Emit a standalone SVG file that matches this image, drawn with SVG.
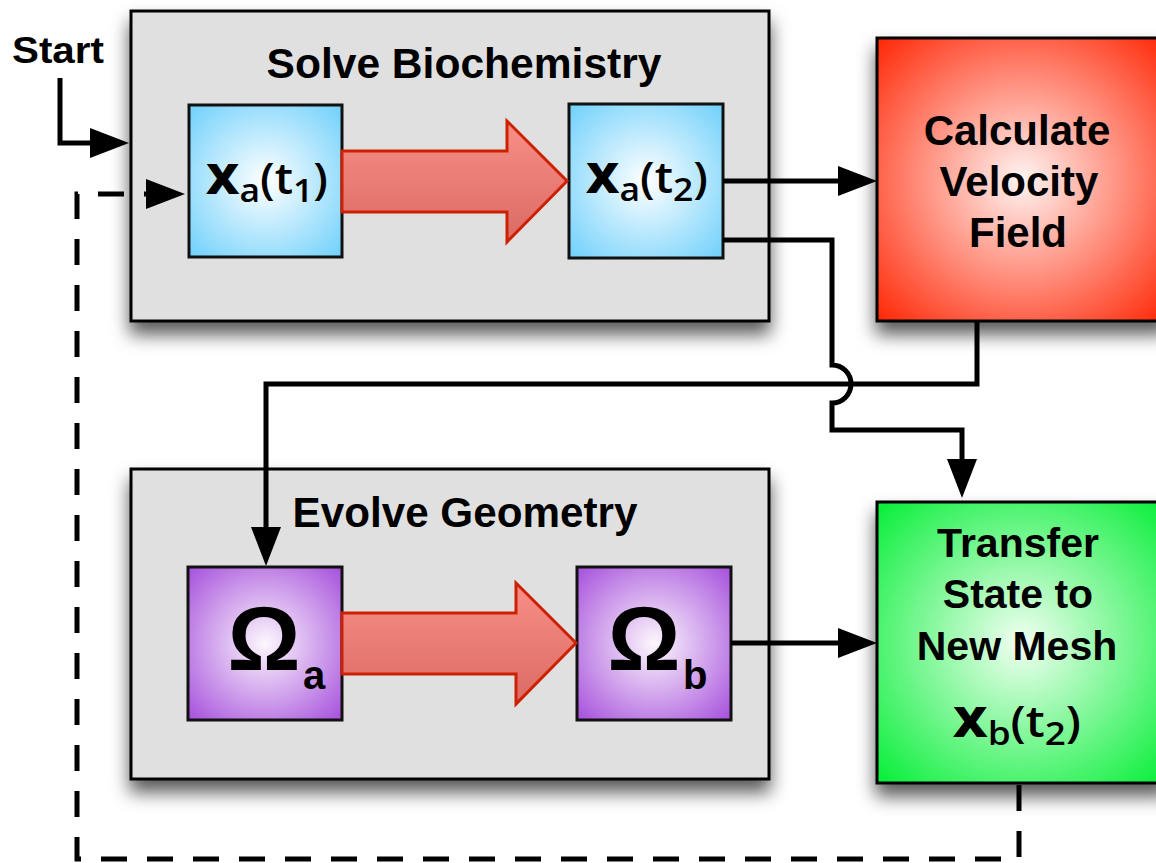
<svg xmlns="http://www.w3.org/2000/svg" width="1156" height="863" viewBox="0 0 1156 863">
<defs>
<filter id="sh" x="-20%" y="-20%" width="140%" height="150%">
<feDropShadow dx="0" dy="12" stdDeviation="9" flood-color="#000" flood-opacity="0.65"/>
</filter>
<radialGradient id="gBlue" cx="50%" cy="50%" r="70%">
<stop offset="0" stop-color="#ffffff"/>
<stop offset="1" stop-color="#6fd0fb"/>
</radialGradient>
<radialGradient id="gRed" cx="50%" cy="50%" r="72%">
<stop offset="0" stop-color="#fff4f2"/>
<stop offset="1" stop-color="#ff2200"/>
</radialGradient>
<radialGradient id="gGreen" cx="50%" cy="50%" r="72%">
<stop offset="0" stop-color="#f2fff2"/>
<stop offset="1" stop-color="#00ee33"/>
</radialGradient>
<radialGradient id="gPurple" cx="50%" cy="50%" r="70%">
<stop offset="0" stop-color="#fcf7fd"/>
<stop offset="1" stop-color="#a650dc"/>
</radialGradient>
<linearGradient id="gArrow" x1="0" y1="0" x2="0" y2="1">
<stop offset="0" stop-color="#f88f86"/>
<stop offset="1" stop-color="#db6a64"/>
</linearGradient>
<marker id="ah" viewBox="0 0 39 30" markerWidth="39" markerHeight="30" refX="19" refY="15" markerUnits="userSpaceOnUse" orient="auto">
<path d="M0,0 L39,15 L0,30 Z" fill="#000"/>
</marker>
</defs>
<style>
.group{fill:#e0e0e0;stroke:#000;stroke-width:3}
.big{stroke:#000;stroke-width:3}
.sm{stroke:#111;stroke-width:3}
.lbl{font-family:"Liberation Sans",Arial,sans-serif;font-weight:bold;fill:#000}
.math{font-family:"Open Sans","DejaVu Sans",sans-serif;font-weight:600;fill:#000}
.omega{font-family:"Liberation Sans",Arial,sans-serif;font-weight:bold;fill:#000}
.conn{fill:none;stroke:#000;stroke-width:5;stroke-linejoin:miter}
.dash{stroke-dasharray:26 20}
.fat{fill:url(#gArrow);stroke:#cc2000;stroke-width:3}
</style>

<g id="solve-biochemistry">
<rect class="group" x="131" y="11" width="638" height="310" filter="url(#sh)"/>
<text class="lbl" x="464" y="78" font-size="42" text-anchor="middle" textLength="395" lengthAdjust="spacingAndGlyphs">Solve Biochemistry</text>
</g>

<g id="evolve-geometry">
<rect class="group" x="131" y="469" width="638" height="310" filter="url(#sh)"/>
<text class="lbl" x="465" y="527" font-size="42" text-anchor="middle" textLength="345" lengthAdjust="spacingAndGlyphs">Evolve Geometry</text>
</g>

<g id="xa-t1">
<rect class="sm" x="189" y="105" width="153" height="152" fill="url(#gBlue)"/>
<text class="math" x="267" y="194" font-size="43" text-anchor="middle" textLength="122" lengthAdjust="spacingAndGlyphs"><tspan font-weight="800">X</tspan><tspan font-size="33" dy="8">a</tspan><tspan dy="-8">(t</tspan><tspan font-size="33" dy="8">1</tspan><tspan dy="-8">)</tspan></text>
</g>

<g id="xa-t2">
<rect class="sm" x="569" y="104" width="154" height="154" fill="url(#gBlue)"/>
<text class="math" x="647" y="193" font-size="43" text-anchor="middle" textLength="122" lengthAdjust="spacingAndGlyphs"><tspan font-weight="800">X</tspan><tspan font-size="33" dy="8">a</tspan><tspan dy="-8">(t</tspan><tspan font-size="33" dy="8">2</tspan><tspan dy="-8">)</tspan></text>
</g>

<g id="arrow-top">
<path class="fat" d="M342,151 H507 V121 L567,181 L507,242 V212 H342 Z"/>
</g>

<g id="omega-a">
<rect class="sm" x="188" y="567" width="154" height="153" fill="url(#gPurple)"/>
<text class="omega" x="264" y="670" font-size="91" text-anchor="middle">Ω</text>
<text class="lbl" x="303" y="689" font-size="40">a</text>
</g>

<g id="omega-b">
<rect class="sm" x="577" y="567" width="154" height="153" fill="url(#gPurple)"/>
<text class="omega" x="644" y="670" font-size="91" text-anchor="middle">Ω</text>
<text class="lbl" x="683" y="689" font-size="40">b</text>
</g>

<g id="arrow-bottom">
<path class="fat" d="M342,613 H516 V583 L576,643 L516,704 V674 H342 Z"/>
</g>

<g id="calc-velocity">
<rect class="big" x="877" y="38" width="290" height="283" fill="url(#gRed)" filter="url(#sh)"/>
<text class="lbl" x="1017" y="145" font-size="42" text-anchor="middle">Calculate</text>
<text class="lbl" x="1019" y="196" font-size="42" text-anchor="middle">Velocity</text>
<text class="lbl" x="1018" y="247" font-size="42" text-anchor="middle">Field</text>
</g>

<g id="transfer-state">
<rect class="big" x="877" y="502" width="290" height="281" fill="url(#gGreen)" filter="url(#sh)"/>
<text class="lbl" x="1018" y="557" font-size="41" text-anchor="middle">Transfer</text>
<text class="lbl" x="1018" y="608" font-size="41" text-anchor="middle">State to</text>
<text class="lbl" x="1017" y="660" font-size="41" text-anchor="middle">New Mesh</text>
<text class="math" x="1017" y="737" font-size="43" text-anchor="middle" textLength="128" lengthAdjust="spacingAndGlyphs"><tspan font-weight="800">X</tspan><tspan font-size="33" dy="8">b</tspan><tspan dy="-8">(t</tspan><tspan font-size="33" dy="8">2</tspan><tspan dy="-8">)</tspan></text>
</g>

<g id="start-label">
<text class="lbl" x="12" y="63" font-size="37" textLength="92" lengthAdjust="spacingAndGlyphs">Start</text>
</g>

<g id="connectors">
<path class="conn" d="M60,78 V143 H109" marker-end="url(#ah)"/>
<path class="conn dash" d="M1019,785 V859 H77 V194 H165" marker-end="url(#ah)"/>
<path class="conn" d="M723,181 H857" marker-end="url(#ah)"/>
<path class="conn" d="M977,321 V384 H266 V546" marker-end="url(#ah)"/>
<path class="conn" d="M723,240 H832 V365 A19,19 0 0 1 832,403 V430 H962 V478" marker-end="url(#ah)"/>
<path class="conn" d="M731,643 H857" marker-end="url(#ah)"/>
</g>
</svg>
